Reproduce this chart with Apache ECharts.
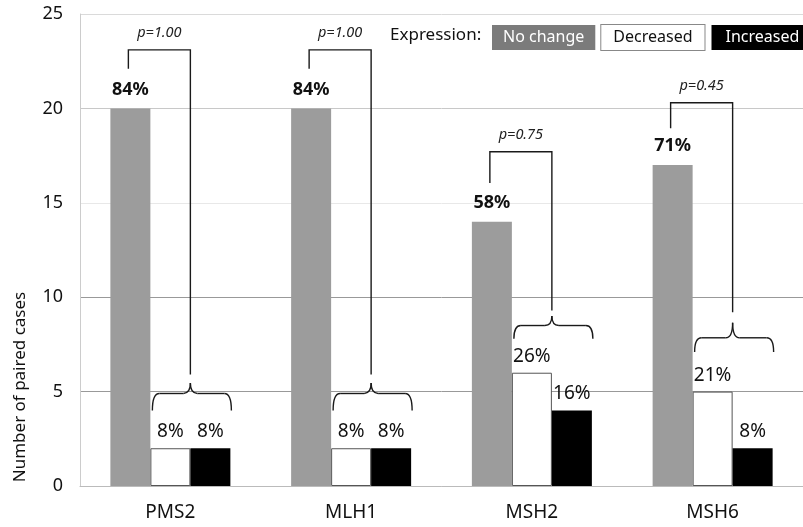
<!DOCTYPE html>
<html><head><meta charset="utf-8">
<script src="https://cdn.jsdelivr.net/npm/echarts@6/dist/echarts.min.js"></script>
<style>html,body{margin:0;padding:0;background:#fff}#c{width:803px;height:527px}</style>
</head><body><div id="c"></div>
<script>
const categories = ['PMS2', 'MLH1', 'MSH2', 'MSH6'];
const noChange = [20, 20, 14, 17];
const decreased = [2, 2, 6, 5];
const increased = [2, 2, 4, 2];
const noChangePct = ['84%', '84%', '58%', '71%'];
const decreasedPct = ['8%', '8%', '26%', '21%'];
const increasedPct = ['8%', '8%', '16%', '8%'];
const pValues = ['p=1.00', 'p=1.00', 'p=0.75', 'p=0.45'];
// bracket levels, in y-axis units
const bracketTop = [23.1, 23.1, 17.7, 20.3];
const bracketLeftEnd = [22.1, 22.1, 16.05, 18.95];
const bracketRightEnd = [5.9, 5.9, 9.3, 9.2];
const braceTip = [5.45, 5.45, 9.0, 8.65];
const braceLine = [4.9, 4.9, 8.5, 7.85];
const braceEnd = [4.0, 4.0, 7.8, 7.1];
const yMin = 0, yMax = 25, yStep = 5;

const FONT = '"Noto Sans", sans-serif';
const BW = 40;

function renderBracket(params, api) {
  const i = api.value(0);
  const cx = api.coord([i, 0])[0];
  const Y = v => api.coord([i, v])[1];
  const gx = cx - BW - 2;
  const mx = cx + BW / 2;
  const L = cx - BW / 2 + 2, R = cx + BW * 1.5 + 1;
  const yTop = Y(api.value(1)), yLE = Y(api.value(2)), yRE = Y(api.value(3));
  const yTip = Y(api.value(4)), yB = Y(api.value(5)), yE = Y(api.value(6));
  const r = 7;
  const ls = { stroke: '#1a1a1a', lineWidth: 1.4, fill: null };
  return {
    type: 'group',
    children: [
      { type: 'polyline', shape: { points: [[gx, yLE], [gx, yTop], [mx, yTop], [mx, yRE]] }, style: ls },
      { type: 'bezierCurve', shape: { x1: L, y1: yE, cpx1: L, cpy1: yB, x2: L + r, y2: yB }, style: ls },
      { type: 'line', shape: { x1: L + r, y1: yB, x2: mx - r, y2: yB }, style: ls },
      { type: 'bezierCurve', shape: { x1: mx - r, y1: yB, cpx1: mx, cpy1: yB, x2: mx, y2: yTip }, style: ls },
      { type: 'bezierCurve', shape: { x1: mx, y1: yTip, cpx1: mx, cpy1: yB, x2: mx + r, y2: yB }, style: ls },
      { type: 'line', shape: { x1: mx + r, y1: yB, x2: R - r, y2: yB }, style: ls },
      { type: 'bezierCurve', shape: { x1: R - r, y1: yB, cpx1: R, cpy1: yB, x2: R, y2: yE }, style: ls },
      { type: 'text', x: (gx + mx) / 2, y: yTop - 17,
        style: { text: pValues[i], fontSize: 14.5, fontStyle: 'italic', fontFamily: FONT, fill: '#222', align: 'center', verticalAlign: 'middle' } }
    ]
  };
}

const chart = echarts.init(document.getElementById('c'));
chart.setOption({
  animation: false,
  textStyle: { fontFamily: FONT },
  title: { text: 'Expression:', left: 390, top: 27, padding: 0, textStyle: { fontSize: 17, fontWeight: 'normal', color: '#111', fontFamily: FONT } },
  legend: {
    left: 487, top: 24, width: 400, padding: 0, icon: 'none', itemWidth: 0, itemHeight: 26, itemGap: 1, selectedMode: false,
    data: [
      { name: 'No change', textStyle: { color: '#fff', backgroundColor: '#7b7b7b', padding: [5, 11, 4, 11], fontSize: 16 } },
      { name: 'Decreased', textStyle: { color: '#111', backgroundColor: '#fff', borderColor: '#888', borderWidth: 1, padding: [5, 12, 4, 12], fontSize: 16 } },
      { name: 'Increased', textStyle: { color: '#fff', backgroundColor: '#000', padding: [5, 14, 4, 14], fontSize: 16 } }
    ]
  },
  graphic: [{
    type: 'text', x: 20, y: 387, rotation: Math.PI / 2,
    style: { text: 'Number of paired cases', fontSize: 17, fontFamily: FONT, fill: '#111', align: 'center', verticalAlign: 'middle' }
  }],
  grid: { left: 80, top: 14, width: 728, height: 472 },
  xAxis: {
    type: 'category', data: categories,
    axisLine: { lineStyle: { color: '#bbb' } },
    axisTick: { lineStyle: { color: '#777' }, length: 6 },
    axisLabel: { fontSize: 19, color: '#111', margin: 17 }
  },
  yAxis: {
    type: 'value', min: yMin, max: yMax, interval: yStep,
    axisLine: { show: true, lineStyle: { color: '#ccc' } },
    axisTick: { show: false },
    axisLabel: { fontSize: 18, color: '#111', margin: 17 },
    splitLine: { lineStyle: { color: ['#ccc', '#999', '#999', '#e8e8e8', '#c8c8c8', '#dadada'] } }
  },
  series: [
    { name: 'No change', type: 'bar', data: noChange, barWidth: BW, barGap: '0%',
      itemStyle: { color: '#9c9c9c' },
      label: { show: true, position: 'top', distance: 10, fontSize: 18, fontWeight: 'bold', color: '#111', formatter: p => noChangePct[p.dataIndex] } },
    { name: 'Decreased', type: 'bar', data: decreased, barWidth: BW, barGap: '0%',
      itemStyle: { color: '#fff', borderColor: '#555', borderWidth: 1 },
      label: { show: true, position: 'top', distance: 7, fontSize: 19, color: '#111', formatter: p => decreasedPct[p.dataIndex] } },
    { name: 'Increased', type: 'bar', data: increased, barWidth: BW, barGap: '0%',
      itemStyle: { color: '#000' },
      label: { show: true, position: 'top', distance: 7, fontSize: 19, color: '#111', formatter: p => increasedPct[p.dataIndex] } },
    { name: 'brackets', type: 'custom', silent: true, z: 5, renderItem: renderBracket,
      encode: { x: 0, y: 1 },
      data: categories.map((c, i) => [i, bracketTop[i], bracketLeftEnd[i], bracketRightEnd[i], braceTip[i], braceLine[i], braceEnd[i]]) }
  ]
});
</script></body></html>
